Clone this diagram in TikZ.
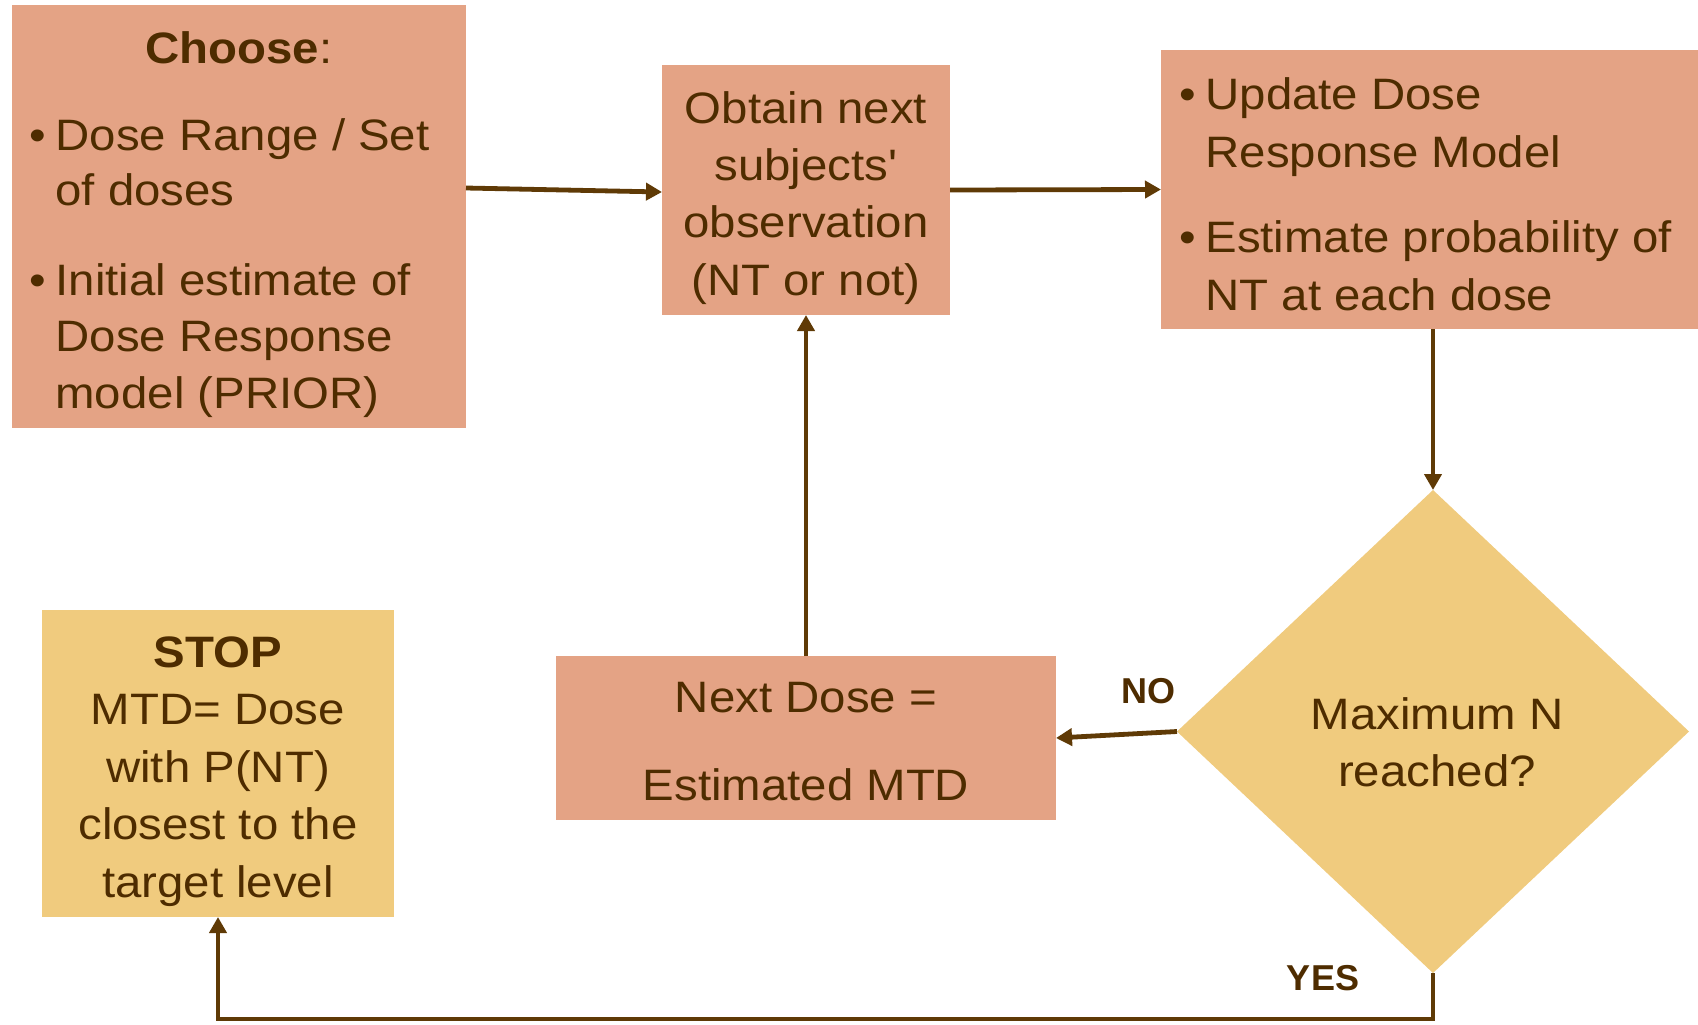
\documentclass[tikz,border=0pt]{standalone}
\usepackage{fontspec}
\setmainfont{Liberation Sans}[FakeStretch=1.077,Ligatures=TeXOff]
\newfontfamily\lblfont{Liberation Sans}[Ligatures=TeXOff]
\usetikzlibrary{shapes.geometric,arrows.meta,calc}
\definecolor{salmon}{HTML}{E4A385}
\definecolor{gold}{HTML}{F0CB7E}
\definecolor{txt}{HTML}{4E2C00}
\definecolor{lin}{HTML}{5F3A06}
\newcommand\fsz[1]{\fontsize{22pt}{#1pt}\selectfont}
\begin{document}
\begin{tikzpicture}[x=0.5pt,y=-0.5pt,
  box/.style={rectangle,fill=salmon,inner sep=0pt,outer sep=0pt},
  ybox/.style={rectangle,fill=gold,inner sep=0pt,outer sep=0pt},
  dia/.style={diamond,fill=gold,inner sep=0pt,outer sep=0pt},
  txtc/.style={text=txt,inner sep=0pt,outer sep=0pt,align=center,anchor=base},
  txtl/.style={text=txt,inner sep=0pt,outer sep=0pt,align=left,anchor=base west},
  bul/.style={text=txt,inner sep=0pt,outer sep=0pt,anchor=base west,font=\fsz{28}},
  arr/.style={draw=lin,line width=2.4pt,line join=miter,-{Triangle[length=8pt,width=8.5pt]}},
  lbl/.style={text=txt,inner sep=0pt,outer sep=0pt,font=\lblfont\bfseries\fontsize{18pt}{22pt}\selectfont,anchor=base}
]
\useasboundingbox (0,0) rectangle (1698,1024);

% Box 1 (text nodes anchored at the baseline of their last line)
\node[box,minimum width=227pt,minimum height=211.5pt] (b1) at (239,216.5) {};
\node[txtc,font=\fsz{28}] (t1) at (239,63) {\textbf{Choose}:};
\node[bul] (u1) at (29.6,150) {•};
\node[txtl,font=\fsz{27.5}] (t1a) at (55.5,205) {Dose Range / Set\\of doses};
\node[bul] (u2) at (29.6,295) {•};
\node[txtl,font=\fsz{28.25}] (t1b) at (55.5,408) {Initial estimate of\\Dose Response\\model (PRIOR)};

% Box 2
\node[box,minimum width=144pt,minimum height=125pt] (b2) at (806,190) {};
\node[txtc,font=\fsz{28.65}] (t2) at (806,295) {Obtain next\\subjects'\\observation\\(NT or not)};

% Box 3
\node[box,minimum width=268.5pt,minimum height=139.5pt] (b3) at (1429.5,189.5) {};
\node[bul] (u3) at (1179.6,109) {•};
\node[txtl,font=\fsz{29}] (t3a) at (1205.5,167) {Update Dose\\Response Model};
\node[bul] (u4) at (1179.6,252) {•};
\node[txtl,font=\fsz{29}] (t3b) at (1205.5,310) {Estimate probability of\\NT at each dose};

% Box 4
\node[box,minimum width=250pt,minimum height=82pt] (b4) at (806,738) {};
\node[txtc,font=\fsz{44}] (t4) at (806,800) {Next Dose =\\Estimated MTD};

% Stop box
\node[ybox,minimum width=176pt,minimum height=153.5pt] (st) at (218,763.5) {};
\node[txtc,font=\fsz{28.75}] (t5) at (218,897) {\textbf{STOP}\\MTD= Dose\\with P(NT)\\closest to the\\target level};

% Diamond
\node[dia,minimum width=256pt,minimum height=241.5pt] (d) at (1433,731.5) {};
\node[txtc,font=\fsz{28.5}] (t6) at (1437,786) {Maximum N\\reached?};

% Labels
\node[lbl] (no) at (1148,703) {NO};
\node[lbl] (yes) at (1323,990) {YES};

% Connectors
\coordinate (yc) at (0,1019);
\draw[arr] ([yshift=14.25pt]b1.east) -- ([yshift=-1pt]b2.west);
\draw[arr] (b2.east) -- (b3.west);
\draw[arr] (b3.south -| d.north) -- (d.north);
\draw[arr] (d.west) -- (b4.east);
\draw[arr] (b4.north) -- (b2.south);
\draw[arr] (d.south) -- (d.south |- yc) -| (st.south);
\end{tikzpicture}
\end{document}
